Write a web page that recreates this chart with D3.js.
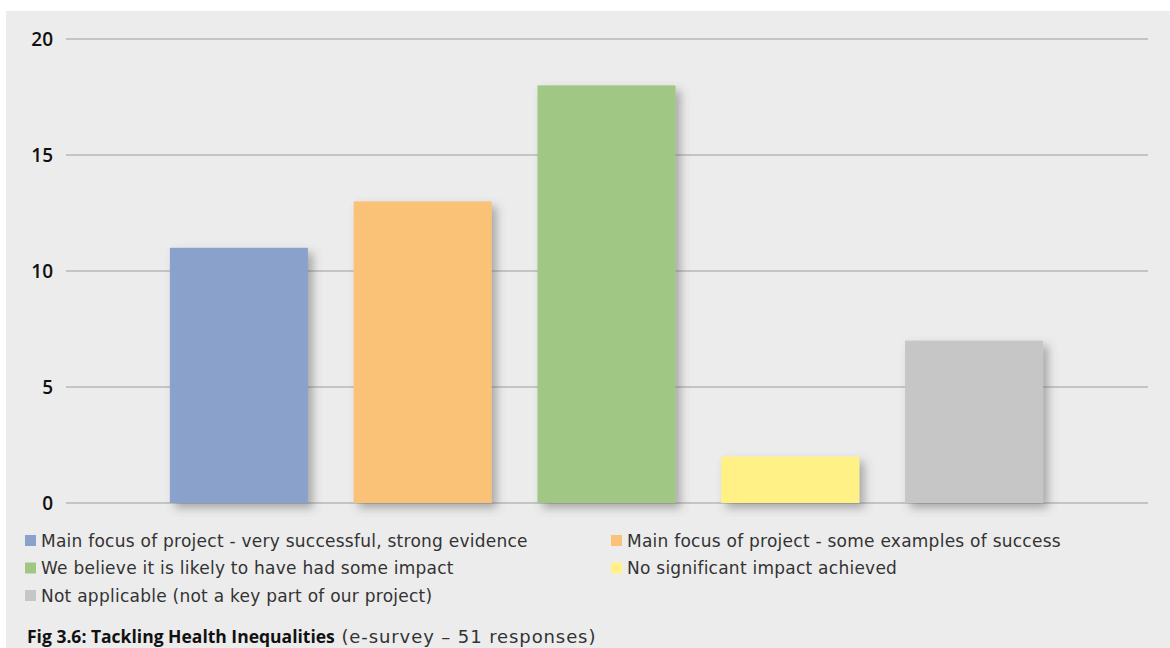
<!DOCTYPE html>
<html>
<head>
<meta charset="utf-8">
<script src="https://cdn.jsdelivr.net/npm/d3@7"></script>
<style>
  html, body { margin: 0; padding: 0; background: #ffffff; }
  svg { display: block; }
  text { font-family: "Open Sans", Lato, sans-serif; }
  .light { font-family: "DejaVu Sans", "Open Sans", sans-serif; }
</style>
</head>
<body>
<svg id="chart" width="1170" height="648"></svg>
<script>
// Survey responses: "Tackling Health Inequalities"
const categories = [
  "Main focus of project - very successful, strong evidence",
  "Main focus of project - some examples of success",
  "We believe it is likely to have had some impact",
  "No significant impact achieved",
  "Not applicable (not a key part of our project)"
];
const responses = [11, 13, 18, 2, 7];
const barColors = ["#8aa2cb", "#fac277", "#a1c785", "#fff185", "#c6c6c6"];
const yTicks = [0, 5, 10, 15, 20];

const svg = d3.select("#chart");

// Light grey panel
svg.append("rect")
  .attr("x", 6).attr("y", 11)
  .attr("width", 1164).attr("height", 637)
  .attr("fill", "#ececec");

// Soft shadow under each bar
const defs = svg.append("defs");
const f = defs.append("filter").attr("id", "barShadow")
  .attr("x", "-20%").attr("y", "-20%").attr("width", "150%").attr("height", "150%");
f.append("feDropShadow")
  .attr("dx", 5).attr("dy", 5).attr("stdDeviation", 5)
  .attr("flood-color", "#555").attr("flood-opacity", 0.45);

const x = d3.scaleBand()
  .domain(categories)
  .range([147, 1066])
  .paddingInner(0.249)
  .paddingOuter(0.1245);

const y = d3.scaleLinear().domain([0, 20]).range([503, 39]);

// Horizontal gridlines
svg.append("g")
  .selectAll("line")
  .data(yTicks)
  .join("line")
  .attr("x1", 66).attr("x2", 1148)
  .attr("y1", d => y(d)).attr("y2", d => y(d))
  .attr("stroke", "#c4c4c4")
  .attr("stroke-width", 2);

// Y axis labels
svg.append("g")
  .selectAll("text")
  .data(yTicks)
  .join("text")
  .attr("x", 53)
  .attr("y", d => y(d))
  .attr("dy", "0.36em")
  .attr("text-anchor", "end")
  .attr("font-size", 19)
  .attr("font-weight", 600)
  .attr("fill", "#111")
  .text(d => d);

// Bars
svg.append("g")
  .selectAll("rect")
  .data(responses)
  .join("rect")
  .attr("x", (d, i) => x(categories[i]))
  .attr("y", d => y(d))
  .attr("width", x.bandwidth())
  .attr("height", d => y(0) - y(d))
  .attr("fill", (d, i) => barColors[i])
  .attr("filter", "url(#barShadow)");

// Legend, two columns
const legend = svg.append("g");
const legendItems = legend.selectAll("g")
  .data(categories)
  .join("g")
  .attr("transform", (d, i) => `translate(${i % 2 === 0 ? 25 : 611}, ${535 + Math.floor(i / 2) * 27.5})`);
legendItems.append("rect")
  .attr("width", 11).attr("height", 11)
  .attr("fill", (d, i) => barColors[i]);
legendItems.append("text")
  .attr("class", "light")
  .attr("x", 16).attr("y", 11.5)
  .attr("font-size", 17)
  .attr("letter-spacing", 0.25)
  .attr("fill", "#333")
  .text(d => d);

// Figure caption
const cap = svg.append("text")
  .attr("x", 27).attr("y", 643)
  .attr("font-size", 17.5)
  .attr("fill", "#111");
cap.append("tspan").attr("font-weight", 700).text("Fig 3.6: Tackling Health Inequalities");
cap.append("tspan").attr("class", "light").attr("font-size", 18)
  .attr("letter-spacing", 0.9)
  .attr("font-weight", 400).attr("fill", "#333").text(" (e-survey \u2013 51 responses)");
</script>
</body>
</html>
